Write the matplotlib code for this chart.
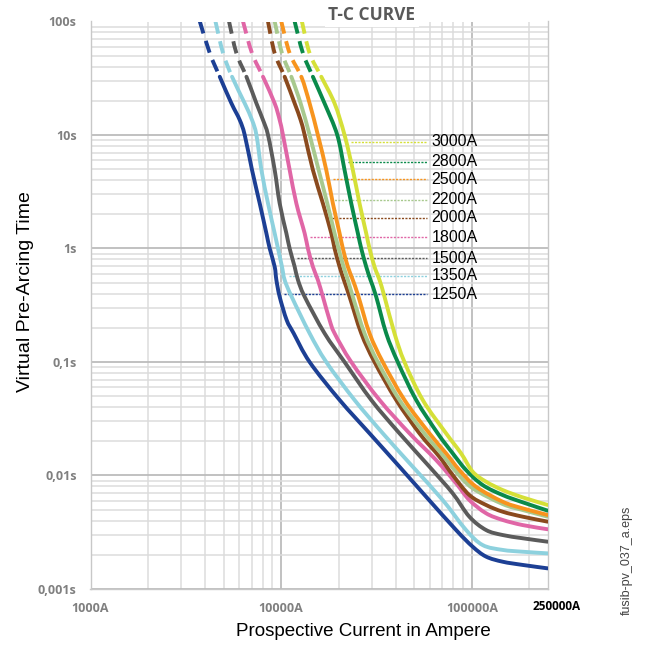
import numpy as np
import matplotlib
matplotlib.use('Agg')
import matplotlib.pyplot as plt
from matplotlib.path import Path
from matplotlib.patches import PathPatch
from matplotlib.ticker import FixedLocator, LogLocator, NullFormatter, FixedFormatter

# ---------------- data ----------------
ratings = ['1250A', '1350A', '1500A', '1800A', '2000A', '2200A', '2500A', '2800A', '3000A']
colors = ['#1c3f94', '#8dd1de', '#5b5b5b', '#e066a6', '#8a4a1e',
          '#a8c98e', '#f7941e', '#0a8a4a', '#d5e038']

cur_1250 = [3745, 4224, 4764, 5486, 6063, 6440, 7033, 7717, 8365, 8707, 9247, 9438, 9820, 10690,
            11630, 14100, 20250, 29070, 41730, 57580, 82660, 101000, 118700, 145000, 184500, 250000]
t_1250 = [100, 52.5, 32.6, 19.0, 13.56, 10, 4.92, 2.50, 1.361, 1.0, 0.691, 0.528, 0.376, 0.234,
          0.179, 0.1, 0.0463, 0.02353, 0.01196, 0.00650, 0.00331, 0.00236, 0.00193, 0.00174,
          0.00163, 0.00152]

cur_1350 = [4524, 4959, 5526, 6440, 7033, 7418, 7877, 8531, 9247, 9623, 10100, 10430, 11350,
            14100, 17240, 24250, 34120, 48980, 70330, 93250, 113900, 145000, 184500, 250000]
t_1350 = [100, 52.5, 32.6, 19.0, 13.56, 10, 4.92, 2.50, 1.361, 1.0, 0.691, 0.528, 0.376,
          0.179, 0.1, 0.0463, 0.02353, 0.01196, 0.00608, 0.00331, 0.00244, 0.00221, 0.00213,
          0.00206]

cur_1500 = [5330, 5827, 6575, 7418, 8030, 8531, 9247, 9820, 10650, 11080, 11770, 12250, 13280,
            16890, 21500, 29680, 41730, 59920, 79360, 97000, 118700, 145000, 184500, 250000]
t_1500 = [100, 52.5, 32.6, 19.0, 13.56, 10, 4.92, 2.50, 1.361, 1.0, 0.691, 0.528, 0.376,
          0.179, 0.1, 0.0463, 0.02353, 0.01196, 0.00697, 0.00434, 0.00331, 0.00299, 0.00280,
          0.00261]

cur_1800 = [6310, 7033, 8030, 9247, 9820, 10220, 11080, 12010, 13280, 13810, 14670, 15580, 16550,
            17950, 19060, 23310, 32800, 47090, 64950, 82660, 97000, 118700, 145000, 184500, 250000]
t_1800 = [100, 52.5, 32.6, 19.0, 13.56, 10, 4.92, 2.50, 1.361, 1.0, 0.691, 0.528, 0.376, 0.234,
          0.179, 0.1, 0.0463, 0.02353, 0.01369, 0.00854, 0.00608, 0.00465, 0.00406, 0.00366,
          0.00336]

cur_2000 = [8531, 9247, 10430, 11770, 12650, 13280, 14670, 16550, 18320, 19060, 20250, 21320, 22840,
            26300, 30870, 40110, 53110, 67570, 79360, 97000, 118700, 145000, 184500, 250000]
t_2000 = [100, 52.5, 32.6, 19.0, 13.56, 10, 4.92, 2.50, 1.361, 1.0, 0.691, 0.528, 0.376,
          0.179, 0.1, 0.0463, 0.02353, 0.01464, 0.01010, 0.00673, 0.00550, 0.00480, 0.00434,
          0.00392]

cur_2200 = [9247, 10100, 11310, 12650, 14100, 15720, 17450, 19060, 20000, 21240, 22370, 23760,
            27360, 32120, 41730, 56390, 70330, 82660, 101000, 145000, 184500, 250000]
t_2200 = [100, 52.5, 32.6, 19.0, 10, 4.92, 2.50, 1.361, 1.0, 0.691, 0.528, 0.376,
          0.179, 0.1, 0.0463, 0.02353, 0.01516, 0.01080, 0.00772, 0.00561, 0.00497, 0.00434]

cur_2500 = [10020, 11080, 12760, 14100, 15580, 17240, 18670, 20250, 21070, 22370, 23760, 25450,
            29070, 34120, 44320, 59920, 73270, 86010, 105200, 145000, 184500, 250000]
t_2500 = [100, 52.5, 32.6, 19.0, 10, 4.92, 2.50, 1.361, 1.0, 0.691, 0.528, 0.376,
          0.179, 0.1, 0.0463, 0.02353, 0.01569, 0.01118, 0.00797, 0.00588, 0.00514, 0.00449]

cur_2800 = [11770, 13010, 14670, 16890, 19690, 21500, 23310, 25250, 26300, 27930, 29420, 31510,
            35550, 40880, 51050, 66210, 79360, 93250, 113900, 145000, 184500, 250000]
t_2800 = [100, 52.5, 32.6, 19.0, 10, 4.92, 2.50, 1.361, 1.0, 0.691, 0.528, 0.376,
          0.179, 0.1, 0.0463, 0.02353, 0.01569, 0.01118, 0.00825, 0.00673, 0.00581, 0.00490]

cur_3000 = [12850, 14100, 16240, 19060, 21500, 23760, 25760, 27930, 29070, 30870, 32800, 34830,
            39290, 44320, 55260, 73270, 87780, 101000, 118700, 145000, 184500, 250000]
t_3000 = [100, 52.5, 32.6, 19.0, 10, 4.92, 2.50, 1.361, 1.0, 0.691, 0.528, 0.376,
          0.179, 0.1, 0.0463, 0.02353, 0.01569, 0.01080, 0.00882, 0.00745, 0.00642, 0.00550]

currents = [cur_1250, cur_1350, cur_1500, cur_1800, cur_2000, cur_2200, cur_2500, cur_2800, cur_3000]
times = [t_1250, t_1350, t_1500, t_1800, t_2000, t_2200, t_2500, t_2800, t_3000]

# y position (time) of each rating label, same order as ratings
label_times = [0.397, 0.576, 0.820, 1.255, 1.868, 2.675, 4.07, 5.82, 8.73]
dash_above = 33.0          # curves drawn dashed above this time
label_line_end = 58500     # right end of dotted label leaders (A)
label_text_x = 61500       # label text position (A)

x_ticks = [1e3, 1e4, 1e5]
x_tick_labels = ['1000A', '10000A', '100000A']
y_ticks = [1e-3, 1e-2, 1e-1, 1, 10, 100]
y_tick_labels = ['0,001s', '0,01s', '0,1s', '1s', '10s', '100s']

# ---------------- figure ----------------
W, H = 648, 645
fig = plt.figure(figsize=(W / 100, H / 100), dpi=100)
L, R, T, B = 90.5, 547.7, 21.5, 589
ax = fig.add_axes([L / W, 1 - B / H, (R - L) / W, (B - T) / H])
ax.set_xscale('log')
ax.set_yscale('log')
ax.set_xlim(1000, 250000)
ax.set_ylim(0.001, 100)

ax.xaxis.set_major_locator(FixedLocator(x_ticks))
ax.xaxis.set_major_formatter(FixedFormatter(x_tick_labels))
ax.yaxis.set_major_locator(FixedLocator(y_ticks))
ax.yaxis.set_major_formatter(FixedFormatter(y_tick_labels))
ax.xaxis.set_minor_locator(LogLocator(base=10, subs=np.arange(2, 10), numticks=20))
ax.yaxis.set_minor_locator(LogLocator(base=10, subs=np.arange(2, 10), numticks=20))
ax.xaxis.set_minor_formatter(NullFormatter())
ax.yaxis.set_minor_formatter(NullFormatter())

ax.grid(which='major', color='#bcbcbc', lw=1.3, zorder=0)
ax.grid(which='minor', color='#dcdcdc', lw=1.1, zorder=0)
ax.set_axisbelow(True)
ax.tick_params(which='both', length=0)
ax.tick_params(axis='x', pad=9, labelsize=9, labelcolor='#808080')
ax.tick_params(axis='y', pad=10, labelsize=9, labelcolor='#808080')
for lab in ax.get_xticklabels() + ax.get_yticklabels():
    lab.set_fontweight('bold')
    lab.set_family('Open Sans')
for side in ['left', 'bottom', 'top', 'right']:
    ax.spines[side].set_color('#c8c8c8')
    ax.spines[side].set_linewidth(1.0)
ax.spines['top'].set_visible(False)


def smooth_path(x, y, i0, i1):
    """Smooth (Catmull-Rom style) Bezier path through data points i0..i1,
    built in log space so that it renders smoothly on the log axes."""
    lx, ly = np.log10(x), np.log10(y)
    n = len(lx)
    verts = [(x[i0], y[i0])]
    codes = [Path.MOVETO]
    for i in range(i0, i1):
        a = max(i - 1, 0)
        d = min(i + 2, n - 1)
        c1 = (lx[i] + (lx[i + 1] - lx[a]) / 6, ly[i] + (ly[i + 1] - ly[a]) / 6)
        c2 = (lx[i + 1] - (lx[d] - lx[i]) / 6, ly[i + 1] - (ly[d] - ly[i]) / 6)
        verts += [(10 ** c1[0], 10 ** c1[1]), (10 ** c2[0], 10 ** c2[1]), (x[i + 1], y[i + 1])]
        codes += [Path.CURVE4] * 3
    return Path(verts, codes)


lw = 2.8
leader_gap = 10 ** (5 / 191)   # leaders start a few pixels right of the curve
for cur, tt, col, name, lt in zip(currents, times, colors, ratings, label_times):
    cur = np.array(cur, float)
    tt = np.array(tt, float)
    k = int(np.argmax(tt <= dash_above))      # first point of the solid part
    n = len(cur)
    dashed = PathPatch(smooth_path(cur, tt, 0, k), fill=False, edgecolor=col, lw=lw,
                       ls=(0, (3.2, 2.0)), capstyle='butt', zorder=3)
    solid = PathPatch(smooth_path(cur, tt, k, n - 1), fill=False, edgecolor=col, lw=lw,
                      capstyle='round', joinstyle='round', zorder=3)
    ax.add_patch(dashed)
    ax.add_patch(solid)
    # dotted leader + label
    lc, lt_ = np.log10(cur), np.log10(tt)
    xstart = 10 ** np.interp(np.log10(lt), lt_[::-1], lc[::-1]) * leader_gap
    ax.plot([xstart, label_line_end], [lt, lt], color=col, lw=1.0,
            ls=(0, (1.5, 1.0)), zorder=2)
    ax.text(label_text_x, lt, name, fontsize=11.5, color='black', va='center', ha='left',
            family='Liberation Sans', zorder=4)

# texts
fig.text(372 / W, 1 - 15 / H, 'T-C CURVE', ha='center', va='center', fontsize=12.5,
         fontweight='bold', color='#595959', family='Open Sans',
         bbox=dict(fc='white', ec='none', pad=2.5))
fig.text(557 / W, 1 - 607 / H, '250000A', ha='center', va='center', fontsize=8.5,
         fontweight='bold', color='black', family='Open Sans')
fig.text(26 / W, 1 - 292 / H, 'Virtual Pre-Arcing Time', rotation=90, ha='center',
         va='center', fontsize=14, family='Liberation Sans', color='black')
fig.text(363 / W, 1 - 632 / H, 'Prospective Current in Ampere', ha='center', va='center',
         fontsize=13.5, family='Liberation Sans', color='black')
fig.text(627 / W, 1 - 560 / H, 'fusib-pv_037_a.eps', rotation=90, ha='center', va='center',
         fontsize=9, family='Liberation Sans', color='#444444')

fig.savefig('out.png', dpi=100, facecolor='white')
